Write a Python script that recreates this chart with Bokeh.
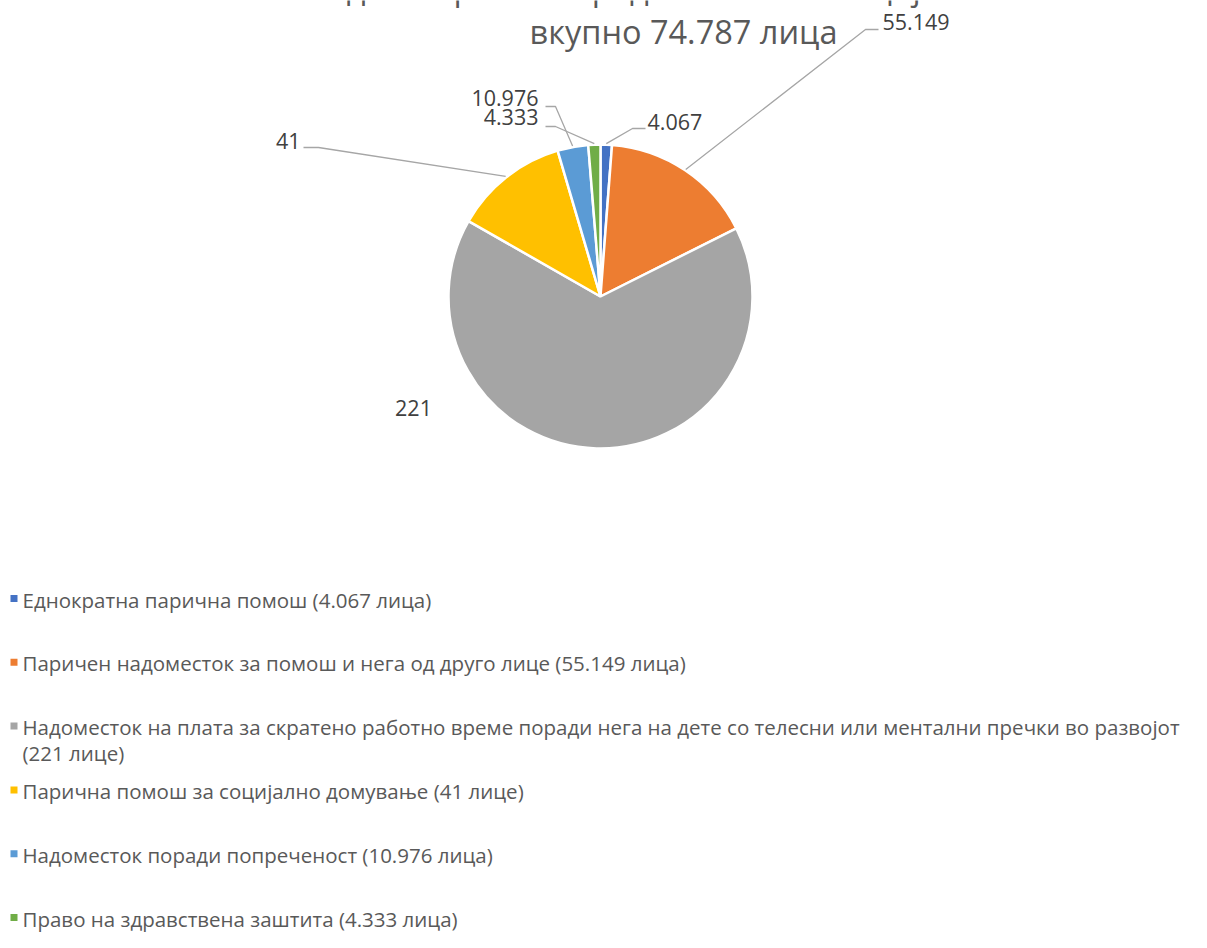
import numpy as np
from bokeh.plotting import figure
from bokeh.models import Range1d, ColumnDataSource
from bokeh.core.properties import value
from bokeh.embed import file_html
from bokeh.resources import INLINE

# ---------------- data ----------------
title_lines = ["Обезбедени права според Законот за социјална заштита",
               "вкупно 74.787 лица"]
categories = [
    "Еднократна парична помош",
    "Паричен надоместок за помош и нега од друго лице",
    "Надоместок на плата за скратено работно време поради нега на дете со телесни или ментални пречки во развојот",
    "Парична помош за социјално домување",
    "Надоместок поради попреченост",
    "Право на здравствена заштита",
]
values = [4.067, 55.149, 221, 41, 10.976, 4.333]
value_labels = ["4.067", "55.149", "221", "41", "10.976", "4.333"]
units = ["лица", "лица", "лице", "лице", "лица", "лица"]
colors = ["#4472C4", "#ED7D31", "#A5A5A5", "#FFC000", "#5B9BD5", "#70AD47"]

# ---------------- layout (screen pixel coordinates) ----------------
W, H = 1191, 932
def PX(x):
    return x
def PY(y):
    return H - y

FONT = "Open Sans"
cx, cy, R = PX(600), PY(296), 152

# data-label placement: (x, y_center, align), elbow, end of leader (None = no leader)
label_pos = [(647, 121, "left"), (882, 21, "left"), (413, 407, "center"),
             (300, 140, "right"), (538, 97, "right"), (538, 116, "right")]
elbows = [(632, 128), (865, 29), None, (318, 147), (555, 106), (555, 126)]
ends = [(645, 128), (878, 29), None, (303, 147), (545, 106), (545, 126)]

title_y = [-13, 31]         # vertical centres of the two title lines (first is cut off)
legend_y0, legend_dy = 599, 63.8
legend_text_x = 22
legend_square_x = 13.5
legend_line_gap = 26

# ---------------- figure ----------------
p = figure(width=W, height=H, x_range=Range1d(0, W), y_range=Range1d(0, H),
           toolbar_location=None, output_backend="svg", min_border=0)
p.axis.visible = False
p.grid.visible = False
p.outline_line_color = None
p.background_fill_color = "white"

# pie
vals = np.array(values, dtype=float)
frac = vals / vals.sum()
cum_end = np.cumsum(frac)
cum_start = cum_end - frac
start_angle = np.pi / 2 - cum_end * 2 * np.pi
end_angle = np.pi / 2 - cum_start * 2 * np.pi
src = ColumnDataSource(dict(start=start_angle, end=end_angle, color=colors))
p.wedge(x=cx, y=cy, radius=R, start_angle="start", end_angle="end",
        fill_color="color", line_color="white", line_width=2.5, source=src)

# leader lines
mid = np.pi / 2 - (cum_start + frac / 2) * 2 * np.pi
for i in range(len(values)):
    if elbows[i] is None:
        continue
    sx = cx + (R + 1) * np.cos(mid[i])
    sy = cy + (R + 1) * np.sin(mid[i])
    xs = [sx, PX(elbows[i][0]), PX(ends[i][0])]
    ys = [sy, PY(elbows[i][1]), PY(ends[i][1])]
    p.line(xs, ys, line_color="#A6A6A6", line_width=1.3)

# data labels
for i, lbl in enumerate(value_labels):
    x, y, al = label_pos[i]
    p.text(x=[PX(x)], y=[PY(y)], text=[lbl], text_align=al, text_baseline="middle",
           text_font=value(FONT), text_font_size="21.5px", text_color="#404040")

# title (first line is cut off by the top edge, as in the original)
for j, t in enumerate(title_lines):
    p.text(x=[PX(683)], y=[PY(title_y[j])], text=[t], text_align="center",
           text_baseline="middle", text_font=value(FONT), text_font_size="32.5px",
           text_color="#595959")

# legend
for i, cat in enumerate(categories):
    full = f"{cat} ({value_labels[i]} {units[i]})"
    if len(full) > 100:
        k = full.rfind(" (")
        lines = [full[:k], full[k + 1:]]
    else:
        lines = [full]
    yc = legend_y0 + i * legend_dy
    p.rect(x=[PX(legend_square_x)], y=[PY(yc - 1)], width=7, height=7,
           fill_color=colors[i], line_color=None)
    for j, ln in enumerate(lines):
        p.text(x=[PX(legend_text_x)], y=[PY(yc + j * legend_line_gap)], text=[ln],
               text_align="left", text_baseline="middle", text_font=value(FONT),
               text_font_size="20.5px", text_color="#595959")

open("out.html", "w").write(file_html(p, INLINE))
